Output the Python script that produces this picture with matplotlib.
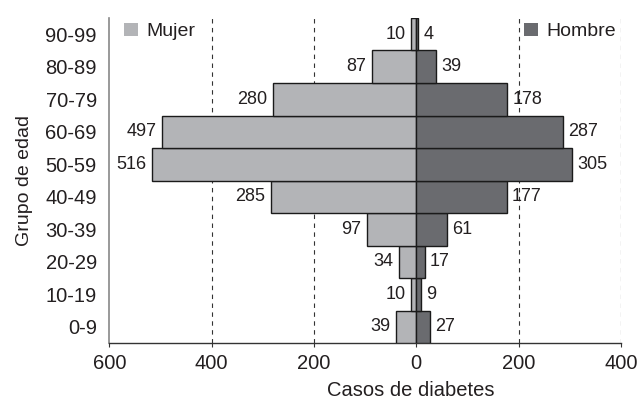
import numpy as np
import matplotlib.pyplot as plt
from matplotlib.patches import Patch

plt.rcParams['font.family'] = ['Liberation Sans', 'DejaVu Sans']

grupos = ['0-9', '10-19', '20-29', '30-39', '40-49',
          '50-59', '60-69', '70-79', '80-89', '90-99']
mujer = [39, 10, 34, 97, 285, 516, 497, 280, 87, 10]
hombre = [27, 9, 17, 61, 177, 305, 287, 178, 39, 4]
xticks = [-600, -400, -200, 0, 200, 400]
xticklabels = ['600', '400', '200', '0', '200', '400']

c_mujer = '#b3b4b7'
c_hombre = '#6a6b6f'
c_text = '#231f20'

fig = plt.figure(figsize=(6.4, 4.08), dpi=100)
ax = fig.add_axes([0.171, 0.159, 0.799, 0.797])

y = np.arange(len(grupos))
ax.barh(y, [-v for v in mujer], height=1.0, color=c_mujer,
        edgecolor='#1a1a1a', linewidth=1.0, zorder=3)
ax.barh(y, hombre, height=1.0, color=c_hombre,
        edgecolor='#1a1a1a', linewidth=1.0, zorder=3)

for yi, v in zip(y, mujer):
    ax.annotate(str(v), xy=(-v, yi), xytext=(-4, 0), textcoords='offset points',
                ha='right', va='center', fontsize=13, color=c_text, zorder=4)
for yi, v in zip(y, hombre):
    ax.annotate(str(v), xy=(v, yi), xytext=(3.5, 0), textcoords='offset points',
                ha='left', va='center', fontsize=13, color=c_text, zorder=4)

for gx in [-400, -200, 200, 400]:
    ax.axvline(gx, color='#333333', linestyle=(0, (4, 4)), linewidth=0.8, zorder=1)

ax.set_xlim(-600, 400)
ax.set_ylim(-0.5, 9.5)
ax.set_xticks(xticks)
ax.set_xticklabels(xticklabels)
ax.set_yticks(y)
ax.set_yticklabels(grupos)
ax.tick_params(axis='y', length=0, pad=9, labelsize=14.5, labelcolor=c_text)
ax.tick_params(axis='x', length=3, width=0.8, pad=5, labelsize=14.5,
               labelcolor=c_text, color='#333333')

for s in ['top', 'right']:
    ax.spines[s].set_visible(False)
ax.spines['left'].set_color('#888888')
ax.spines['left'].set_linewidth(1.2)
ax.spines['bottom'].set_color('#333333')
ax.spines['bottom'].set_linewidth(1.0)

ax.set_ylabel('Grupo de edad', fontsize=14, color=c_text)
ax.yaxis.set_label_coords(-0.15, 0.5)
ax.set_xlabel('Casos de diabetes', fontsize=14.5, color=c_text)
ax.xaxis.set_label_coords(0.59, -0.115)

leg1 = ax.legend(handles=[Patch(facecolor=c_mujer, edgecolor='none', label='Mujer')],
                 loc='upper left', frameon=False, fontsize=14, handlelength=0.7,
                 handleheight=0.7, handletextpad=0.45, borderaxespad=0.1,
                 bbox_to_anchor=(0.01, 1.015), labelcolor=c_text)
ax.add_artist(leg1)
ax.legend(handles=[Patch(facecolor=c_hombre, edgecolor='none', label='Hombre')],
          loc='upper right', frameon=False, fontsize=14, handlelength=0.7,
          handleheight=0.7, handletextpad=0.45, borderaxespad=0.1,
          bbox_to_anchor=(1.01, 1.015), labelcolor=c_text)

fig.savefig('out.png', dpi=100)
